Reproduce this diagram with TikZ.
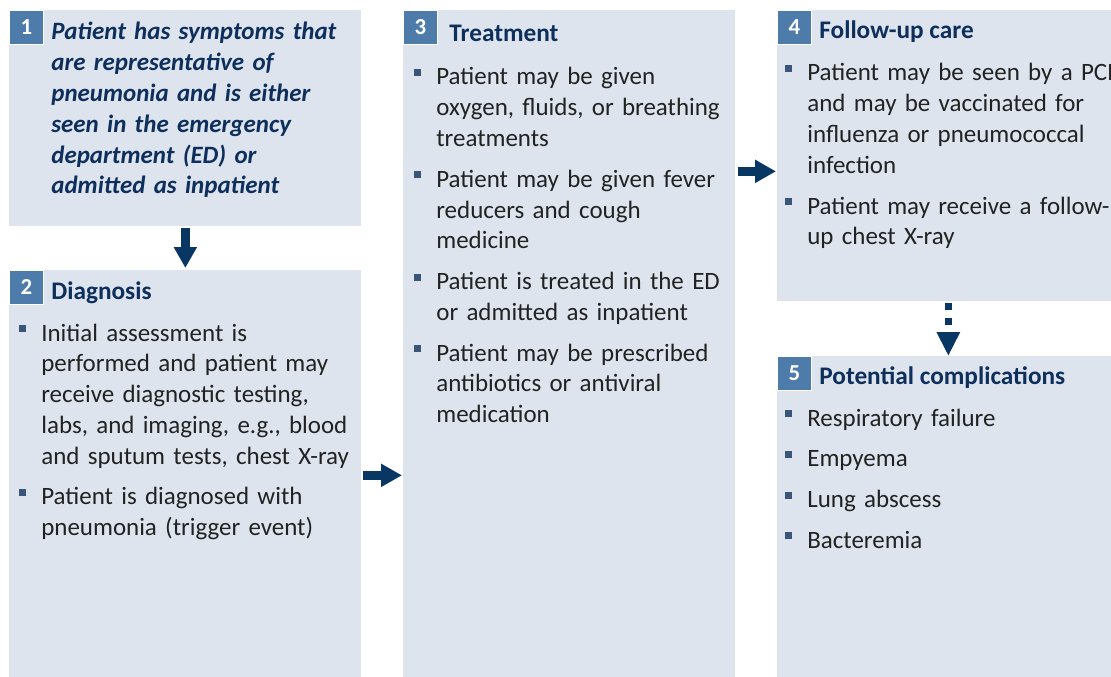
\documentclass[tikz,border=0pt]{standalone}
\usepackage{fontspec}
\setmainfont{Carlito}
\usetikzlibrary{positioning,arrows.meta,calc}
\definecolor{panelfill}{HTML}{DDE4EE}
\definecolor{badgefill}{HTML}{4D7CAA}
\definecolor{navy}{HTML}{0E2F5C}
\definecolor{arrowblue}{HTML}{083763}
\definecolor{bulletgray}{HTML}{3A5577}
\definecolor{bodytext}{HTML}{222222}
\newcommand{\pitem}[1]{\noindent\hangindent=0.44cm\hangafter=1%
  \makebox[0.44cm][l]{\textcolor{bulletgray}{\rule[0.18cm]{0.14cm}{0.14cm}}}#1\par\vspace{0.2cm}}

\begin{document}
\begin{tikzpicture}[
  panel/.style={fill=panelfill, anchor=north west, inner sep=0pt},
  badge/.style={fill=badgefill, draw=white, line width=0.5pt, anchor=north west,
    minimum size=0.68cm, inner sep=0pt, text=white,
    font=\fontsize{13}{15}\selectfont\bfseries},
  heading/.style={anchor=base west, inner sep=0pt, text=navy,
    font=\fontsize{14.4}{17}\selectfont\bfseries},
  points/.style={anchor=base west, inner sep=0pt, text width=8cm, align=left,
    text=bodytext, font=\fontsize{14.2}{17.5}\selectfont}, 
  flow/.style={draw=arrowblue, line width=0.18cm,
    -{Triangle[length=0.42cm,width=0.44cm]}}
]
  \useasboundingbox (0,0) rectangle (22.22,-13.54);

  % 1: onset
  \node[panel, minimum width=7.04cm, minimum height=4.32cm] (onset) at (0.18,-0.2) {};
  \node[badge] (onsetnum) at (onset.north west) {1};
  \node[anchor=base west, inner sep=0pt, text width=6.6cm, align=left, text=navy,
    font=\fontsize{14.2}{17.5}\selectfont\bfseries\itshape] (onsettext)
    at ($(onset.north west)+(0.84,-0.6)$)
    {Patient has symptoms that\\are representative of\\pneumonia and is either\\
     seen in the emergency\\department (ED) or\\admitted as inpatient};

  % 2: diagnosis
  \node[panel, minimum width=7.04cm, minimum height=8.2cm] (diag) at (0.18,-5.4) {};
  \node[badge] (diagnum) at (diag.north west) {2};
  \node[heading] (diagtitle) at ($(diag.north west)+(0.84,-0.58)$) {Diagnosis};
  \node[points] (diagpoints) at ($(diag.north west)+(0.2,-1.42)$) {%
    \pitem{Initial assessment is\newline performed and patient may\newline
      receive diagnostic testing,\newline labs, and imaging, e.g., blood\newline
      and sputum tests, chest X-ray}
    \pitem{Patient is diagnosed with\newline pneumonia (trigger event)}};

  % 3: treatment
  \node[panel, minimum width=6.64cm, minimum height=13.4cm] (treat) at (8.06,-0.2) {};
  \node[badge] (treatnum) at (treat.north west) {3};
  \node[heading] (treattitle) at ($(treat.north west)+(0.92,-0.64)$) {Treatment};
  \node[points] (treatpoints) at ($(treat.north west)+(0.22,-1.5)$) {%
    \pitem{Patient may be given\newline oxygen, fluids, or breathing\newline treatments}
    \pitem{Patient may be given fever\newline reducers and cough\newline medicine}
    \pitem{Patient is treated in the ED\newline or admitted as inpatient}
    \pitem{Patient may be prescribed\newline antibiotics or antiviral\newline medication}};

  % 4: follow-up
  \node[panel, minimum width=6.84cm, minimum height=5.82cm] (follow) at (15.54,-0.2) {};
  \node[badge] (follownum) at (follow.north west) {4};
  \node[heading] (followtitle) at ($(follow.north west)+(0.84,-0.58)$) {Follow-up care};
  \node[points] (followpoints) at ($(follow.north west)+(0.16,-1.42)$) {%
    \pitem{Patient may be seen by a PCP\newline and may be vaccinated for\newline
      influenza or pneumococcal\newline infection}
    \pitem{Patient may receive a follow-\newline up chest X-ray}};

  % 5: complications
  \node[panel, minimum width=6.84cm, minimum height=6.5cm] (compl) at (15.54,-7.12) {};
  \node[badge] (complnum) at (compl.north west) {5};
  \node[heading] (compltitle) at ($(compl.north west)+(0.84,-0.56)$) {Potential complications};
  \node[points] (complpoints) at ($(compl.north west)+(0.16,-1.4)$) {%
    \pitem{Respiratory failure}
    \pitem{Empyema}
    \pitem{Lung abscess}
    \pitem{Bacteremia}};

  \coordinate (followin) at ([yshift=-0.31cm]follow.west);
  \draw[flow, shorten <=0.02cm, shorten >=0.04cm] (onset.south) -- (diag.north);
  \draw[flow, shorten <=0.02cm, shorten >=0.02cm] (diag.east) -- (diag.east -| treat.west);
  \draw[flow, shorten <=0.04cm, shorten >=0.02cm] (treat.east |- followin) -- (followin);
  \draw[flow, line width=0.14cm, dash pattern=on 0.14cm off 0.16cm,
    -{Triangle[length=0.48cm,width=0.44cm]}, shorten <=0.02cm] (follow.south) -- (compl.north);
\end{tikzpicture}
\end{document}
